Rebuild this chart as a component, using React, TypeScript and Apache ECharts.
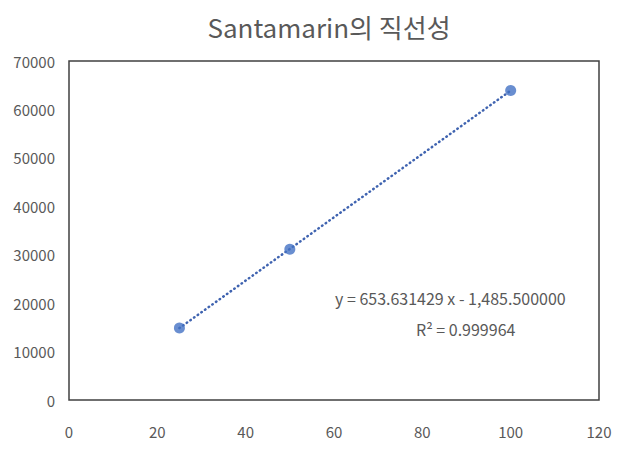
import React, { useEffect, useRef } from "react";
import * as echarts from "echarts";

const xValues = [25, 50, 100];
const yValues = [14880, 31150, 63900];
const equationText = "y = 653.631429 x - 1,485.500000";
const r2Text = "R² = 0.999964";
const titleText = "Santamarin의 직선성";

function fit(xs: number[], ys: number[]) {
  const n = xs.length;
  const mx = xs.reduce((a, b) => a + b, 0) / n;
  const my = ys.reduce((a, b) => a + b, 0) / n;
  let sxy = 0, sxx = 0;
  for (let i = 0; i < n; i++) {
    sxy += (xs[i] - mx) * (ys[i] - my);
    sxx += (xs[i] - mx) * (xs[i] - mx);
  }
  const slope = sxy / sxx;
  return { slope, intercept: my - slope * mx };
}

export default function App() {
  const ref = useRef<HTMLDivElement>(null);
  useEffect(() => {
    if (!ref.current) return;
    const chart = echarts.init(ref.current, null, { renderer: "svg" });
    const { slope, intercept } = fit(xValues, yValues);
    const xMin = Math.min(...xValues);
    const xMax = Math.max(...xValues);
    const font = "'Noto Sans CJK KR', sans-serif";
    chart.setOption({
      animation: false,
      backgroundColor: "#ffffff",
      title: {
        text: titleText,
        left: 324,
        top: 8,
        textAlign: "center",
        textStyle: {
          fontFamily: font,
          fontSize: 26,
          fontWeight: "normal",
          color: "#595959",
        },
      },
      grid: {
        left: 69,
        right: 20,
        top: 61,
        bottom: 56,
        show: true,
        borderColor: "#404040",
        borderWidth: 1.5,
      },
      xAxis: {
        type: "value",
        min: 0,
        max: 120,
        interval: 20,
        axisLine: { show: false },
        axisTick: { show: false },
        splitLine: { show: false },
        axisLabel: {
          margin: 24,
          color: "#595959",
          fontSize: 15,
          fontFamily: font,
        },
      },
      yAxis: {
        type: "value",
        min: 0,
        max: 70000,
        interval: 10000,
        axisLine: { show: false },
        axisTick: { show: false },
        splitLine: { show: false },
        axisLabel: {
          margin: 14,
          color: "#595959",
          fontSize: 15,
          fontFamily: font,
          formatter: (v: number) => String(v),
        },
      },
      series: [
        {
          type: "line",
          data: [
            [xMin, slope * xMin + intercept],
            [xMax, slope * xMax + intercept],
          ],
          symbol: "none",
          lineStyle: { color: "#3F63B0", width: 2.5, type: [0.5, 4], cap: "round" },
          silent: true,
          z: 1,
        },
        {
          type: "scatter",
          data: xValues.map((x, i) => [x, yValues[i]]),
          symbol: "circle",
          symbolSize: 11,
          itemStyle: { color: "#4472C4" },
          z: 2,
        },
      ],
      graphic: [
        {
          type: "text",
          left: 335,
          top: 290,
          style: {
            text: equationText,
            fontSize: 16,
            fontFamily: font,
            fill: "#595959",
          },
        },
        {
          type: "text",
          left: 416,
          top: 321,
          style: {
            text: r2Text,
            fontSize: 16,
            fontFamily: font,
            fill: "#595959",
          },
        },
      ],
    });
    return () => chart.dispose();
  }, []);
  return (
    <div
      ref={ref}
      style={{ position: "fixed", left: 0, top: 0, width: 619, height: 456 }}
    />
  );
}
